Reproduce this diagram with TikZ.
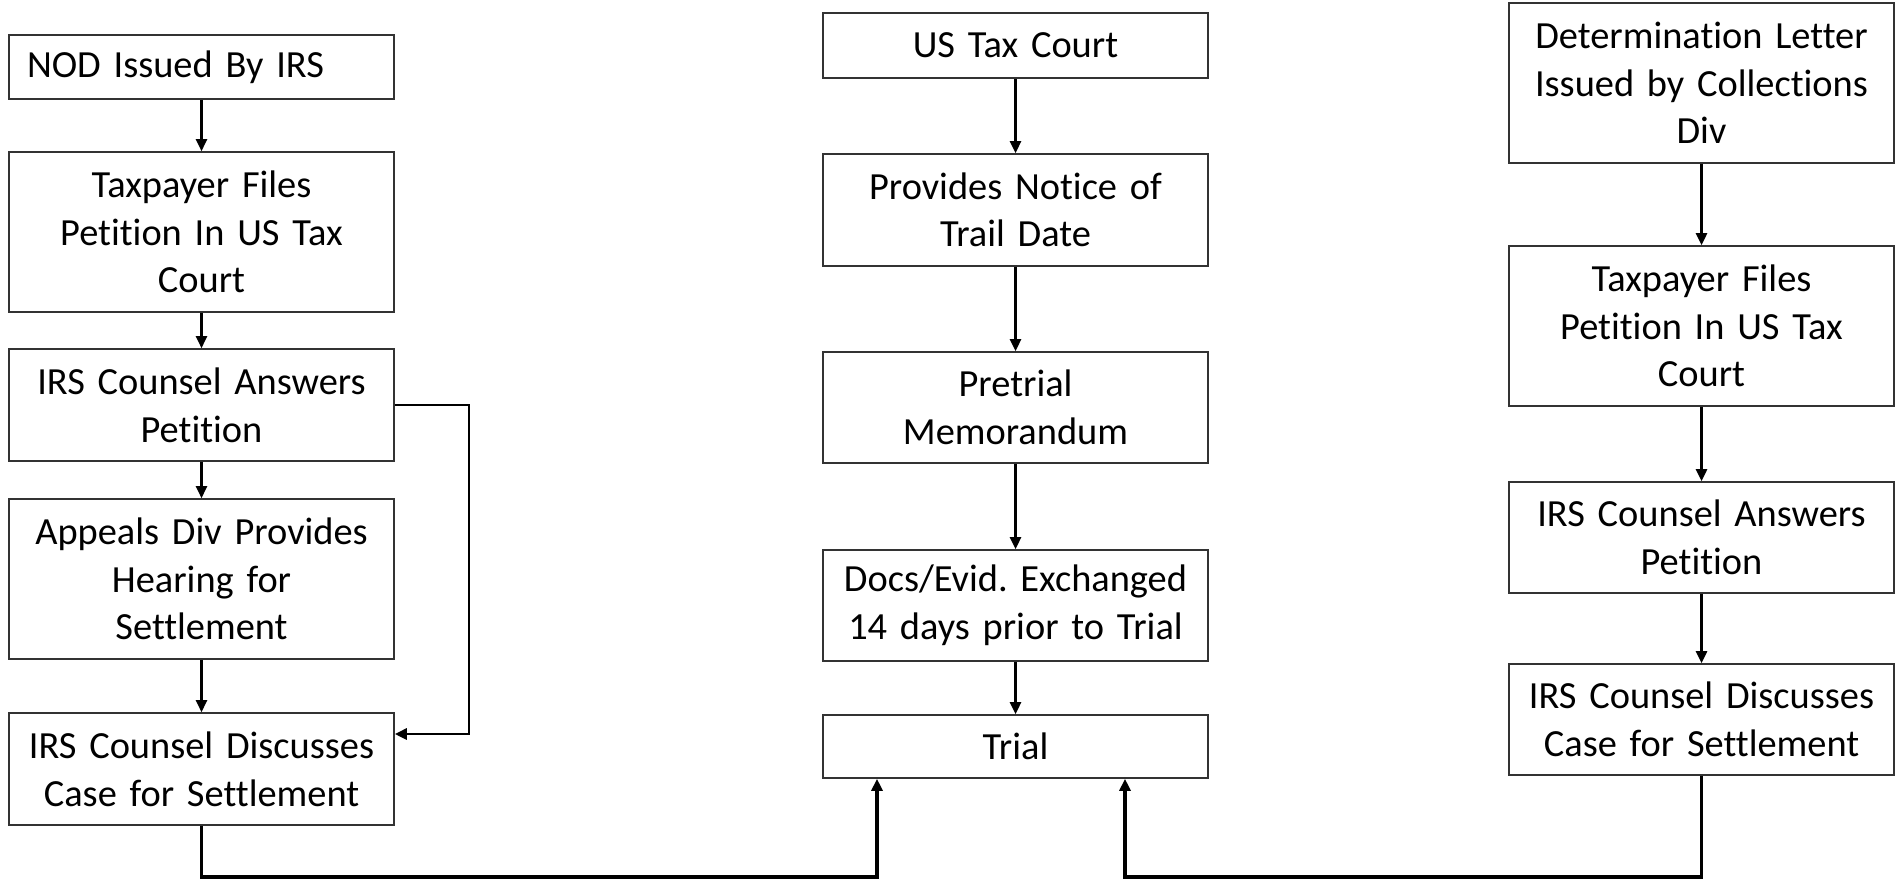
\documentclass[tikz,border=0pt]{standalone}
\usepackage{fontspec}
\setmainfont{Carlito}[Ligatures=NoCommon]
\frenchspacing
\usetikzlibrary{arrows.meta,positioning}

\begin{document}
\begin{tikzpicture}[x=0.5pt,y=-0.5pt,
    box/.style={draw=black!80, line width=0.8pt, text width=182.5pt, inner xsep=5pt,
        inner ysep=2pt, align=center, font=\fontsize{19.2}{23.8}\selectfont},
    arr/.style={-{Triangle[length=6pt,width=5.5pt]}, line width=1.2pt},
    lnk/.style={line width=1.7pt}]
\useasboundingbox (0,0) rectangle (1904,879);

% NOD column
\node[box, minimum height=32pt, align=left, text width=174.5pt, inner xsep=9pt] (nod) at (201.5,67) {NOD Issued By IRS};
\node[box, minimum height=80pt] (tpA) at (201.5,232) {Taxpayer Files\\Petition In US Tax\\Court};
\node[box, minimum height=56pt] (ansA) at (201.5,405) {IRS Counsel Answers\\Petition};
\node[box, minimum height=80pt] (appeals) at (201.5,579) {Appeals Div Provides\\Hearing for\\Settlement};
\node[box, minimum height=56pt] (disA) at (201.5,769) {IRS Counsel Discusses\\Case for Settlement};

% tax court column
\node[box, minimum height=32.5pt] (court) at (1015.5,45.5) {US Tax Court};
\node[box, minimum height=56pt] (notice) at (1015.5,210) {Provides Notice of\\Trail Date};
\node[box, minimum height=55.5pt] (memo) at (1015.5,407.5) {Pretrial\\Memorandum};
\node[box, minimum height=55.5pt] (docs) at (1015.5,605.5) {Docs/Evid. Exchanged\\14 days prior to Trial};
\node[box, minimum height=31.5pt] (trial) at (1015.5,746.5) {Trial};

% determination column
\node[box, minimum height=80pt] (letter) at (1701.5,83) {Determination Letter\\Issued by Collections\\Div};
\node[box, minimum height=80pt] (tpB) at (1701.5,326) {Taxpayer Files\\Petition In US Tax\\Court};
\node[box, minimum height=55.5pt] (ansB) at (1701.5,537.5) {IRS Counsel Answers\\Petition};
\node[box, minimum height=55.5pt] (disB) at (1701.5,719.5) {IRS Counsel Discusses\\Case for Settlement};

\draw[arr] (nod) -- (tpA);
\draw[arr] (tpA) -- (ansA);
\draw[arr] (ansA) -- (appeals);
\draw[arr] (appeals) -- (disA);

\coordinate (sideT) at (469,405);
\coordinate (sideB) at (469,734);
\draw[arr, line width=1.4pt] (ansA.east) -- (sideT) -- (sideB) -- (sideB -| disA.east);

\draw[arr] (court) -- (notice);
\draw[arr] (notice) -- (memo);
\draw[arr] (memo) -- (docs);
\draw[arr] (docs) -- (trial);

\draw[arr] (letter) -- (tpB);
\draw[arr] (tpB) -- (ansB);
\draw[arr] (ansB) -- (disB);

% both routes end at trial
\coordinate (lowL) at (877,877);
\coordinate (lowR) at (1125,877);
\draw[arr, lnk] (disA.south) |- (lowL) -- (lowL |- trial.south);
\draw[arr, lnk] (disB.south) |- (lowR) -- (lowR |- trial.south);
\end{tikzpicture}
\end{document}
